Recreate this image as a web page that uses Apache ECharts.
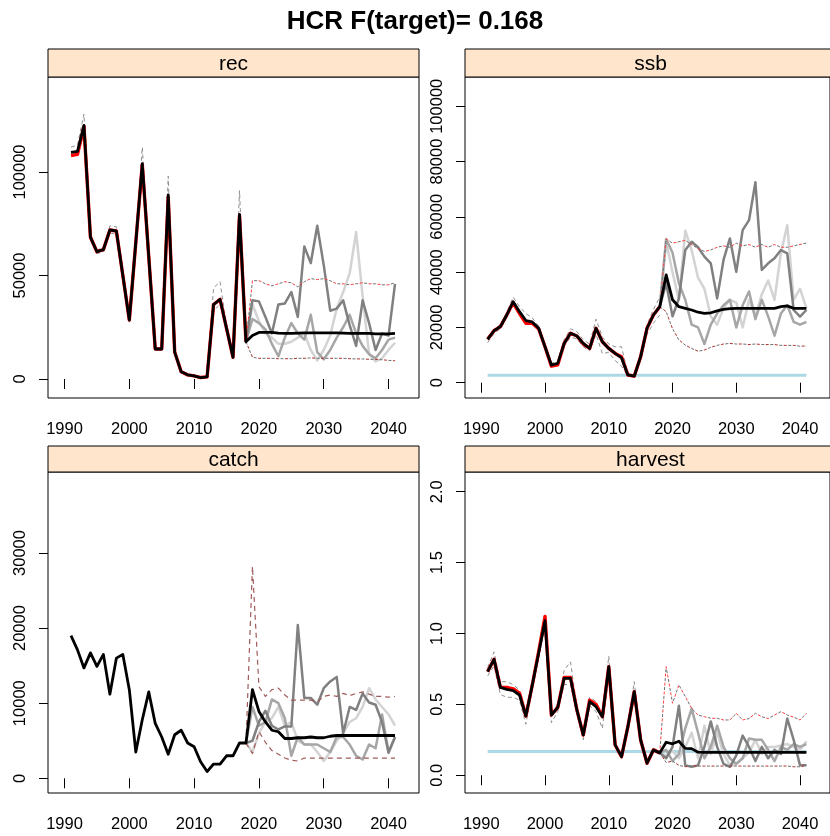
<!DOCTYPE html>
<html><head><meta charset="utf-8">
<script src="https://cdn.jsdelivr.net/npm/echarts@6/dist/echarts.min.js"></script>
<style>html,body{margin:0;padding:0;background:#fff}#c{width:830px;height:836px}</style>
</head><body><div id="c"></div>
<script>
// ---------- DATA ----------
const years = [1991,1992,1993,1994,1995,1996,1997,1998,1999,2000,2001,2002,2003,2004,2005,2006,2007,2008,2009,2010,
  2011,2012,2013,2014,2015,2016,2017,2018,2019,2020,2021,2022,2023,2024,2025,2026,2027,2028,2029,2030,
  2031,2032,2033,2034,2035,2036,2037,2038,2039,2040,2041];
const histYears = years.slice(0, 28);   // 1991-2018
const projYears = years.slice(27);      // 2018-2041
const xTicks = [1990, 2000, 2010, 2020, 2030, 2040];

// rec
const recMedian = [109500,110000,122500,68500,61500,62500,72000,71500,50000,28500,66000,104000,59000,14500,14500,89000,13000,3500,2000,1500,
  700,1000,36000,38500,24500,10500,79500,18000,21000,22500,22500,22500,22200,22000,22000,22200,22300,22300,22300,22300,
  22300,22300,22200,22000,22000,22000,22000,21800,21800,21800,22000];
const recRed = [108000,108500,122000,68500,61500,62500,72000,71500,50000,28500,66000,103500,59000,14500,14500,88000,13000,3500,2000,1500,
  700,1000,36000,38500,24500,10500,79000,18000];
const recHistUp = [112000,113000,128000,70000,62500,63000,74000,73500,51000,29500,67000,112000,60000,15000,15000,98000,14000,3800,2200,1700,
  900,1200,44000,47000,25500,11000,91000,19000];
const recHistLo = [108000,108500,118000,67500,60500,61500,70500,70000,49000,27500,65000,97000,58000,14000,14000,80000,12000,3200,1800,1300,
  500,800,33000,36000,23500,10000,70000,17000];
const recProjUp = [18000,47500,47500,46000,45000,46000,47000,46500,44500,47000,48500,48000,48500,47500,46000,46000,45500,46000,46500,46000,46000,45500,45500,46500];
const recProjLo = [18000,10500,10000,10000,10000,9800,9800,9800,10000,10000,10200,10000,10000,10000,10000,10000,9800,9700,9700,9500,9500,9300,9000,8800];
const recIterA = [18000,38000,37500,30000,22000,36000,36500,42000,30000,64000,56000,74000,55000,33000,34000,38000,26000,16000,38000,27000,14000,22000,21000,46000];
const recIterB = [18000,29000,27000,24000,17000,11000,20000,27000,22000,19000,31000,13000,9500,14000,20000,25000,31000,22000,16000,12000,10000,14000,19000,20000];
const recIterC = [18000,36000,28000,22000,20000,17000,17000,18000,20000,22000,14000,9000,14000,21000,34000,42000,51000,71000,40000,12000,8500,10000,14000,17500];

// ssb
const ssbMedian = [15700,18800,20300,24500,29300,25700,22500,22000,19700,13000,6400,7000,14200,17900,16900,14200,12400,19700,14800,12400,
  10600,9000,2800,2400,9400,19700,24500,27500,39000,30000,27500,26900,26300,25500,25100,25300,26000,26500,26800,26900,
  26900,26900,26900,26900,26900,26900,27500,27800,26900,26900,26900];
const ssbRed = [15700,18800,20300,24500,29000,25000,21500,21500,19500,13000,6000,6500,14200,17900,16900,14000,12400,19700,14800,12400,
  10600,9400,2800,2400,9400,19700,24500,27500];
const ssbHistUp = [16500,19500,21000,25500,31000,27500,25000,23500,20500,13800,7000,7800,15500,19500,18500,15500,14000,23000,16500,14000,
  13000,13000,3200,2900,10500,21000,26500,31000];
const ssbHistLo = [14500,17800,19500,23500,28000,24500,21500,21000,18800,12200,5800,6400,13200,16500,15800,13000,11500,17500,10500,11000,
  8000,6000,2400,2000,8500,17500,21500,24500];
const ssbProjUp = [27500,52000,50500,51000,51500,50000,48500,47500,48000,49000,49500,49000,50500,49500,50000,49000,50000,49000,50000,49000,49000,49500,50000,50500];
const ssbProjLo = [27500,25700,19500,15500,13600,12400,11400,11800,12800,13500,14000,14200,14000,14000,13800,14000,13800,13800,13800,13500,13500,13500,13200,13300];
const ssbIterA = [27500,36000,24000,30500,48000,51000,49000,45600,43200,30500,44400,52200,40100,55200,58800,72500,40800,43200,45000,48000,46800,26300,23900,26300];
const ssbIterB = [27500,52000,47000,36000,30000,21000,20000,14000,21000,25000,28000,30000,20000,28000,33000,23000,30000,24000,17000,25000,28000,22000,21000,22000];
const ssbIterC = [27500,51000,40000,30000,55000,48000,38000,34000,24000,21000,27000,30000,29000,20000,30000,24000,32000,37000,30000,47000,57000,30000,34000,27000];
const ssbRef = 2700;

// catch
const catchMedian = [19000,17100,14700,16700,14900,16500,11200,16000,16500,11800,3500,7800,11500,7300,5500,3200,5800,6400,4700,4200,
  2200,900,1900,1900,3000,3000,4700,4700,11800,8900,7500,6400,6200,5300,5300,5400,5400,5500,5400,5400,
  5600,5700,5700,5700,5700,5700,5700,5700,5700,5700,5700];
const catchProjUp = [4700,28200,12200,10900,11800,12000,11100,10400,10400,10400,10400,10200,10900,11100,10900,11300,11000,11300,11500,11200,10900,10900,10800,10900];
const catchProjLo = [4700,3300,6200,4800,3700,3200,2700,2400,2300,2700,2700,2700,2700,2700,2700,2700,2700,2700,2700,2700,2700,2700,2700,2700];
const catchIterA = [4700,5000,7500,9000,7000,6500,6900,6900,20400,10700,10700,9800,12000,12900,13500,6000,9500,9100,11300,10100,9800,7500,3400,5500];
const catchIterB = [4700,9500,7000,7500,10500,10000,8000,3000,5500,4500,4500,4500,4000,3500,5500,5500,4500,3000,2500,4500,4000,8500,3500,5500];
const catchIterC = [4700,3500,6000,7500,8000,9500,7000,7500,5000,4500,4500,3500,2300,3500,5000,6000,7500,8000,9500,12000,10500,9500,8500,7000];

// harvest
const harvMedian = [0.731,0.818,0.62,0.606,0.597,0.566,0.418,0.636,0.86,1.09,0.425,0.479,0.684,0.684,0.461,0.284,0.519,0.484,0.413,0.766,
  0.214,0.131,0.343,0.59,0.249,0.085,0.179,0.158,0.233,0.222,0.24,0.19,0.188,0.163,0.162,0.162,0.162,0.162,0.162,0.162,
  0.162,0.162,0.162,0.162,0.162,0.162,0.162,0.162,0.162,0.162,0.162];
const harvRed = [0.731,0.818,0.62,0.62,0.61,0.58,0.418,0.636,0.87,1.12,0.425,0.479,0.69,0.69,0.461,0.284,0.53,0.5,0.413,0.766,
  0.214,0.131,0.343,0.59,0.249,0.085,0.179,0.158];
const harvHistUp = [0.76,0.87,0.66,0.66,0.64,0.6,0.44,0.66,0.89,1.12,0.44,0.5,0.74,0.8,0.48,0.3,0.55,0.52,0.43,0.84,
  0.23,0.14,0.36,0.66,0.26,0.09,0.19,0.17];
const harvHistLo = [0.7,0.77,0.57,0.55,0.55,0.53,0.36,0.6,0.83,1.05,0.37,0.45,0.64,0.64,0.43,0.25,0.49,0.45,0.33,0.7,
  0.2,0.12,0.32,0.55,0.23,0.08,0.17,0.15];
const harvProjUp = [0.158,0.766,0.508,0.637,0.555,0.472,0.425,0.413,0.402,0.402,0.39,0.39,0.437,0.39,0.40,0.437,0.413,0.40,0.425,0.449,0.425,0.41,0.39,0.437];
const harvProjLo = [0.158,0.09,0.1,0.07,0.06,0.065,0.065,0.065,0.065,0.065,0.065,0.065,0.065,0.065,0.065,0.065,0.065,0.065,0.065,0.065,0.065,0.06,0.06,0.07];
const harvIterA = [0.158,0.12,0.2,0.49,0.07,0.06,0.07,0.2,0.38,0.2,0.08,0.06,0.14,0.28,0.2,0.1,0.2,0.12,0.18,0.15,0.40,0.25,0.07,0.07];
const harvIterB = [0.158,0.18,0.1,0.15,0.33,0.47,0.3,0.12,0.2,0.35,0.2,0.12,0.08,0.12,0.26,0.25,0.25,0.18,0.1,0.2,0.18,0.22,0.2,0.22];
const harvIterC = [0.158,0.14,0.17,0.12,0.2,0.3,0.12,0.35,0.15,0.3,0.15,0.07,0.08,0.12,0.16,0.25,0.15,0.2,0.2,0.21,0.22,0.2,0.18,0.24];
const harvRef = 0.168;

const titleText = 'HCR F(target)= 0.168';

// ---------- CHART ----------
const FONT = 'Liberation Sans, Arial, sans-serif';
const pair = (xs, ys) => xs.map((x, i) => [x, ys[i]]);

const panels = [
  {name:'rec', left:48, top:77, stripTop:49, ymin:-9180, ymax:145900, ticks:[0,50000,100000], fmt:v=>String(v)},
  {name:'ssb', left:465, top:77, stripTop:49, ymin:-5535, ymax:110600, ticks:[0,20000,40000,60000,80000,100000], fmt:v=>String(v)},
  {name:'catch', left:48, top:472, stripTop:446, ymin:-1957, ymax:40786, ticks:[0,10000,20000,30000], fmt:v=>String(v)},
  {name:'harvest', left:465, top:472, stripTop:446, ymin:-0.125, ymax:2.139, ticks:[0,0.5,1,1.5,2], fmt:v=>v.toFixed(1)}
];
const W = 371, H = 321;

const grids = [], xAxes = [], yAxes = [], graphics = [];
panels.forEach((p, i) => {
  grids.push({left:p.left, top:p.top, width:W, height:H, show:true, borderColor:'#000', borderWidth:1, containLabel:false});
  xAxes.push({type:'value', gridIndex:i, min:1987.45, max:2044.7,
    axisLine:{show:false}, splitLine:{show:false},
    axisTick:{show:true, length:10, customValues:xTicks, lineStyle:{color:'#000'}},
    axisLabel:{customValues:xTicks, fontSize:16.5, fontFamily:FONT, color:'#000', margin:23, formatter:v=>String(v)}});
  yAxes.push({type:'value', gridIndex:i, min:p.ymin, max:p.ymax,
    axisLine:{show:false}, splitLine:{show:false},
    axisTick:{show:true, length:9, customValues:p.ticks, lineStyle:{color:'#000'}},
    axisLabel:{customValues:p.ticks, rotate:90, fontSize:16.5, fontFamily:FONT, color:'#000', margin:19, formatter:p.fmt}});
  graphics.push({type:'rect', shape:{x:p.left, y:p.stripTop, width:W, height:p.top - p.stripTop},
    style:{fill:'#ffe5cc', stroke:'#000', lineWidth:1}, z:10});
  graphics.push({type:'text', x:p.left + W/2, y:(p.stripTop + p.top)/2 + 1,
    style:{text:p.name, fontSize:21, fontFamily:FONT, fill:'#000', align:'center', verticalAlign:'middle'}, z:11});
});

const series = [];
function ln(gi, data, color, width, dash, offset) {
  series.push({type:'line', xAxisIndex:gi, yAxisIndex:gi, data, showSymbol:false, symbol:'none',
    animation:false, silent:true, clip:true,
    lineStyle:{color, width, type:dash || 'solid', dashOffset:offset || 0, cap:'butt', join:'round'}});
}
const DK = '#808080', MD = '#a6a6a6', LT = '#d3d3d3', BLUE = '#add8e6';

function panel(gi, o) {
  if (o.ref !== undefined) ln(gi, [[years[0], o.ref], [years[years.length-1], o.ref]], BLUE, 3);
  ln(gi, pair(projYears, o.itC), LT, 2.5);
  ln(gi, pair(projYears, o.itB), MD, 2.5);
  ln(gi, pair(projYears, o.itA), DK, 2.5);
  if (o.brown) {
    ln(gi, pair(projYears, o.pu), '#a05a5a', 1.2, [5,4]);
    ln(gi, pair(projYears, o.pl), '#a05a5a', 1.2, [5,4]);
  } else {
    ln(gi, pair(projYears, o.pu), '#707070', 1, [3,6]);
    ln(gi, pair(projYears, o.pl), '#707070', 1, [3,6]);
    ln(gi, pair(projYears, o.pu), '#ff4040', 1, [3,6], 4.5);
    ln(gi, pair(projYears, o.pl), '#b03030', 1, [3,6], 4.5);
  }
  if (o.hu) {
    ln(gi, pair(histYears, o.hu), '#909090', 1, [4,3]);
    ln(gi, pair(histYears, o.hl), '#909090', 1, [4,3]);
  }
  if (o.red) ln(gi, pair(histYears, o.red), '#ff0000', 3.4);
  ln(gi, pair(years, o.med), '#000', 2.8);
}

panel(0, {med:recMedian, red:recRed, hu:recHistUp, hl:recHistLo, pu:recProjUp, pl:recProjLo, itA:recIterA, itB:recIterB, itC:recIterC});
panel(1, {med:ssbMedian, red:ssbRed, hu:ssbHistUp, hl:ssbHistLo, pu:ssbProjUp, pl:ssbProjLo, itA:ssbIterA, itB:ssbIterB, itC:ssbIterC, ref:ssbRef});
panel(2, {med:catchMedian, pu:catchProjUp, pl:catchProjLo, itA:catchIterA, itB:catchIterB, itC:catchIterC, brown:true});
panel(3, {med:harvMedian, red:harvRed, hu:harvHistUp, hl:harvHistLo, pu:harvProjUp, pl:harvProjLo, itA:harvIterA, itB:harvIterB, itC:harvIterC, ref:harvRef});

const chart = echarts.init(document.getElementById('c'), null, {renderer:'canvas'});
chart.setOption({
  animation:false,
  backgroundColor:'#fff',
  title:{text:titleText, left:'center', top:4, textStyle:{fontSize:26, fontWeight:'bold', fontFamily:FONT, color:'#000'}},
  grid:grids, xAxis:xAxes, yAxis:yAxes, series, graphic:graphics
});
</script></body></html>
